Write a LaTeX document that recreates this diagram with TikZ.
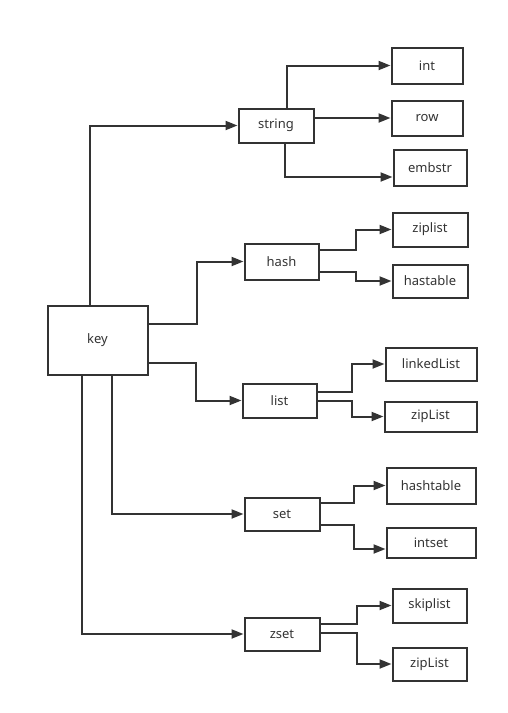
\documentclass[tikz,border=0pt]{standalone}
\usepackage{fontspec}
\setmainfont{Noto Sans}
\usetikzlibrary{arrows.meta}
\definecolor{ink}{HTML}{333333}
\tikzset{
  box/.style={draw=ink, line width=2pt, inner sep=0pt, text=ink, font=\fontsize{13}{15}\selectfont},
  arr/.style={draw=ink, line width=2pt, -{Triangle[length=12pt,width=9pt]}},
}
\begin{document}
\begin{tikzpicture}[x=1pt,y=-1pt]
\useasboundingbox (0,0) rectangle (508,713);
\node[box, minimum width=100pt, minimum height=69pt] (key) at (97.5,340) {key};
\node[box, minimum width=75pt, minimum height=34pt] (string) at (276,125.5) {string};
\node[box, minimum width=71pt, minimum height=36pt] (int) at (427,65.5) {int};
\node[box, minimum width=71pt, minimum height=35pt] (row) at (427,118) {row};
\node[box, minimum width=73pt, minimum height=36pt] (embstr) at (430,167.5) {embstr};
\node[box, minimum width=74pt, minimum height=36pt] (hash) at (281.5,261.5) {hash};
\node[box, minimum width=75pt, minimum height=34pt] (ziplistA) at (430,229.5) {ziplist};
\node[box, minimum width=75pt, minimum height=33pt] (hastable) at (430,281) {hastable};
\node[box, minimum width=74pt, minimum height=34pt] (list) at (279.5,400.5) {list};
\node[box, minimum width=91pt, minimum height=33pt] (linked) at (431,364) {linkedList};
\node[box, minimum width=92pt, minimum height=30pt] (zipListA) at (430.5,416.5) {zipList};
\node[box, minimum width=75pt, minimum height=33pt] (set) at (282,514) {set};
\node[box, minimum width=89pt, minimum height=36pt] (hashtable) at (431,485.5) {hashtable};
\node[box, minimum width=89pt, minimum height=30pt] (intset) at (431,542.5) {intset};
\node[box, minimum width=75pt, minimum height=33pt] (zset) at (282,634) {zset};
\node[box, minimum width=74pt, minimum height=34pt] (skiplist) at (429.5,605.5) {skiplist};
\node[box, minimum width=74pt, minimum height=33pt] (zipListB) at (429.5,664) {zipList};

% key to types
\draw[arr] ([xshift=-7.5pt]key.north) |- (string);
\draw[arr] ([yshift=16pt]key.east) -- ++(48,0) |- (hash);
\draw[arr] ([yshift=-23pt]key.east) -- ++(47,0) |- (list);
\draw[arr] ([xshift=14.5pt]key.south) |- (set);
\draw[arr] ([xshift=-15.5pt]key.south) |- (zset);

% string
\draw[arr] ([xshift=11pt]string.north) |- (int);
\draw[arr] ([yshift=7.5pt]string.east) -- (row.west);
\draw[arr] ([xshift=9pt]string.south) |- ([yshift=-9.5pt]embstr.west);

% hash
\draw[arr] ([yshift=11.5pt]hash.east) -- ++(36,0) |- (ziplistA);
\draw[arr] ([yshift=-10.5pt]hash.east) -- ++(36,0) |- (hastable);

% list
\draw[arr] ([yshift=8.5pt]list.east) -- ++(34,0) |- (linked);
\draw[arr] ([yshift=-0.5pt]list.east) -- ++(34,0) |- (zipListA);

% set
\draw[arr] ([yshift=11pt]set.east) -- ++(33,0) |- (hashtable);
\draw[arr] ([yshift=-11pt]set.east) -- ++(33,0) |- ([yshift=-6.5pt]intset.west);

% zset
\draw[arr] ([yshift=10pt]zset.east) -- ++(36,0) |- (skiplist);
\draw[arr] ([yshift=1pt]zset.east) -- ++(36,0) |- (zipListB);
\end{tikzpicture}
\end{document}
